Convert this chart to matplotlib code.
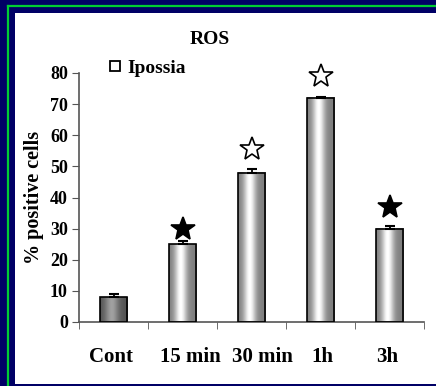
import numpy as np
import matplotlib.pyplot as plt
from matplotlib.patches import Rectangle
from matplotlib.lines import Line2D

# data
categories = ['Cont', '15 min', '30 min', '1h', '3h']
values = [8, 25, 48, 72, 30]
errors = [1, 1, 1, 0.4, 1]
star_y = [None, 30, 55.5, 79, 37]
star_filled = [None, True, False, False, True]

# labels in the original sit a bit off the bar centres
label_dx = [-0.04, 0.12, 0.16, 0.03, -0.04]

plt.rcParams['font.family'] = ['Liberation Serif', 'DejaVu Serif']
plt.rcParams['font.weight'] = 'bold'

navy = '#000066'
fig = plt.figure(figsize=(4.36, 3.86), dpi=100, facecolor='white')
W, H = 436, 386
# navy frame (left, top, bottom) with a green line inside it
for rect in [(0, 0, 15 / W, 1), (0, 1 - 13 / H, 1, 13 / H), (0, 0, 1, 2 / H)]:
    fig.add_artist(Rectangle(rect[:2], rect[2], rect[3], facecolor=navy, edgecolor='none',
                             transform=fig.transFigure, zorder=0))
fig.add_artist(Line2D([7.5 / W, 7.5 / W], [0, 1 - 5.5 / H], color='#00cc33', lw=1.6,
                      transform=fig.transFigure))
fig.add_artist(Line2D([7.5 / W, 1], [1 - 5.5 / H, 1 - 5.5 / H], color='#00cc33', lw=1.6,
                      transform=fig.transFigure))

ax = fig.add_axes([79 / W, 1 - 322 / H, (424 - 79) / W, (322 - 73) / H])
ax.set_facecolor('none')

x = np.arange(len(categories))
width = 0.4

# cylinder-like shading for the bars
t = np.linspace(0, 1, 64)
light = 0.5 + 0.5 * np.exp(-((t - 0.42) / 0.22) ** 2)
dark = 0.33 + 0.3 * np.exp(-((t - 0.42) / 0.25) ** 2)
for i, v in enumerate(values):
    grad = (dark if i == 0 else light)[np.newaxis, :]
    ax.imshow(grad, extent=[x[i] - width / 2, x[i] + width / 2, 0, v], aspect='auto',
              cmap='gray', vmin=0, vmax=1, zorder=2, interpolation='bilinear')
ax.bar(x, values, width, color='none', edgecolor='black', linewidth=1.2, zorder=3)
ax.errorbar(x, values, yerr=[[0] * len(values), errors], fmt='none', ecolor='black',
            elinewidth=1.3, capsize=3.5, capthick=1.5, zorder=3)

for i in range(len(categories)):
    if star_y[i] is None:
        continue
    ax.plot(x[i], star_y[i], marker='*', ms=18, mec='black', mew=1.2,
            mfc='black' if star_filled[i] else 'white', clip_on=False, zorder=4)

ax.set_xlim(-0.5, len(categories) - 0.5)
ax.set_ylim(0, 80)
ax.set_yticks(np.arange(0, 81, 10))
ax.set_xticks(x)
ax.set_xticklabels([])
for i, lab in enumerate(categories):
    ax.text(x[i] + label_dx[i], -0.14, lab, transform=ax.get_xaxis_transform(),
            fontsize=15, fontweight='bold', ha='center', va='center')
ax.set_xticks(np.arange(-0.5, len(categories)), minor=True)
ax.tick_params(axis='x', which='major', length=0)
ax.tick_params(axis='x', which='minor', length=5, direction='out', color='#555555')
ax.tick_params(axis='y', length=5, direction='out', color='#555555', labelsize=13, pad=3)
for s in ['top', 'right']:
    ax.spines[s].set_visible(False)
for s in ['left', 'bottom']:
    ax.spines[s].set_color('#555555')
    ax.spines[s].set_linewidth(1.2)

ax.set_ylabel('% positive cells', fontsize=14.5, fontweight='bold', labelpad=4)
fig.text(210 / W, 1 - 39.5 / H, 'ROS', fontsize=14, fontweight='bold', ha='center', va='center')

handle = Line2D([], [], marker='s', ls='', mfc='white', mec='black', mew=1.3, ms=6.5)
ax.legend(handles=[handle], labels=['Ipossia'], loc='center left', frameon=False,
          bbox_to_anchor=(97 / W, 1 - 68 / H), bbox_transform=fig.transFigure,
          handletextpad=0.15, handlelength=1.0, borderaxespad=0, prop={'size': 14, 'weight': 'bold'})

fig.savefig('out.png', dpi=100, facecolor='white')
